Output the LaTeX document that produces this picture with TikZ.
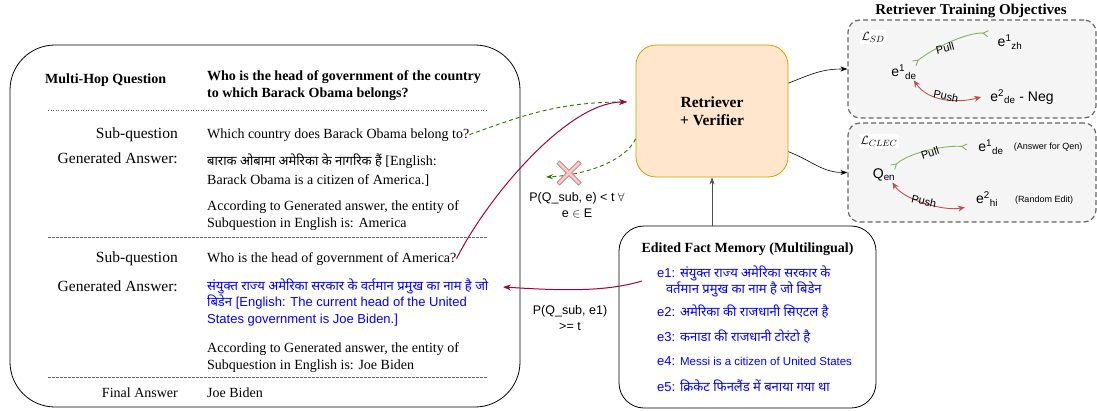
\documentclass[tikz,border=0pt]{standalone}
\usepackage{fontspec}
\setmainfont{Liberation Serif}
\setsansfont{Liberation Sans}
\newfontfamily\hindi[Script=Devanagari]{Noto Sans}
\usetikzlibrary{arrows.meta}

\definecolor{retfill}{HTML}{FFE6CC}
\definecolor{retdraw}{HTML}{D79B00}
\definecolor{objfill}{HTML}{F5F5F5}
\definecolor{objdraw}{HTML}{666666}
\definecolor{pullgreen}{HTML}{82B366}
\definecolor{pushred}{HTML}{B85450}
\definecolor{hopred}{HTML}{A50040}
\definecolor{missgreen}{HTML}{2D7600}
\definecolor{crossfill}{HTML}{F8CECC}
\definecolor{editblue}{HTML}{0000FF}

\tikzset{
  rowlabel/.style={anchor=base east, inner sep=0pt, font=\fontsize{15.5}{18}\selectfont},
  rowtext/.style={anchor=base west, inner sep=0pt, align=left, font=\fontsize{14}{17}\selectfont},
  edittext/.style={text=editblue, font=\sffamily\fontsize{13}{16.5}\selectfont},
  sepline/.style={black!60, line width=0.6pt, dash pattern=on 2.5pt off 1.5pt},
  retbox/.style={draw=retdraw, fill=retfill, line width=0.8pt, rounded corners=20pt,
    minimum width=152pt, minimum height=132pt, align=center,
    font=\bfseries\fontsize{15.5}{18}\selectfont},
  membox/.style={draw, line width=0.8pt, rounded corners=25pt,
    minimum width=257pt, minimum height=182pt},
  memline/.style={anchor=west, inner sep=0pt, text=editblue, font=\sffamily\fontsize{13}{15}\selectfont},
  objbox/.style={draw=objdraw, fill=objfill, line width=1.2pt, dash pattern=on 5pt off 3pt,
    rounded corners=12pt, minimum width=248pt},
  entity/.style={inner sep=1pt, font=\sffamily\fontsize{14}{16}\selectfont},
  note/.style={inner sep=0pt, font=\sffamily\fontsize{9}{11}\selectfont},
  forcelabel/.style={inner sep=0pt, font=\sffamily\fontsize{11}{13}\selectfont},
  lossname/.style={fill=white, inner sep=1.5pt, font=\fontsize{13}{15}\selectfont},
  probtext/.style={align=center, inner sep=0pt, font=\sffamily\fontsize{12.5}{16.5}\selectfont},
  pullarrow/.style={pullgreen, line width=0.9pt,
    {Straight Barb[reversed, length=5pt, width=6pt]}-{Straight Barb[reversed, length=5pt, width=6pt]}},
  pusharrow/.style={pushred, line width=0.9pt,
    {Stealth[length=7pt, width=6pt]}-{Stealth[length=7pt, width=6pt]}},
  missarrow/.style={missgreen, line width=0.9pt, dash pattern=on 4pt off 3pt,
    -{Stealth[length=7pt, width=5pt]}},
  hoparrow/.style={hopred, line width=1pt, -{Stealth[length=8pt, width=6pt]}},
}

\begin{document}
\begin{tikzpicture}[x=1pt, y=-1pt]
\useasboundingbox (0,0) rectangle (1097,412);

% question decomposition
\draw[line width=0.8pt, rounded corners=45pt] (10,45) rectangle (520,407);
\node[anchor=base west, inner sep=0pt, font=\bfseries\fontsize{14}{17}\selectfont] (mhqlabel) at (45,83) {Multi-Hop Question};
\node[rowtext, font=\bfseries\fontsize{14}{17}\selectfont] (mhq) at (207,97) {Who is the head of government of the country\\to which Barack Obama belongs?};
\draw[sepline, dash pattern=on 1pt off 1.5pt] (48,110) -- (487,110);

\node[rowlabel] (sqlabel1) at (178,138) {Sub-question};
\node[rowtext] (sq1) at (207,138) {Which country does Barack Obama belong to?};
\node[rowlabel] (galabel1) at (178,163) {Generated Answer:};
\node[rowtext] (ga1) at (207,184) {{\fontsize{13}{17}\hindi बाराक ओबामा अमेरिका के नागरिक हैं} [English:\\[2pt]Barack Obama is a citizen of America.]};
\node[rowtext] (ent1) at (207,227) {According to Generated answer, the entity of\\Subquestion in English is: America};
\draw[sepline] (48,237) -- (487,237);

\node[rowlabel] (sqlabel2) at (178,262) {Sub-question};
\node[rowtext] (sq2) at (207,262) {Who is the head of government of America?};
\node[rowlabel] (galabel2) at (178,291) {Generated Answer:};
\node[rowtext, edittext] (ga2) at (207,323) {{\hindi संयुक्त राज्य अमेरिका सरकार के वर्तमान प्रमुख का नाम है जो}\\{\hindi बिडेन} [English: The current head of the United\\States government is Joe Biden.]};
\node[rowtext] (ent2) at (207,369) {According to Generated answer, the entity of\\Subquestion in English is: Joe Biden};
\draw[sepline] (48,377) -- (487,377);

\node[rowlabel, font=\fontsize{14}{17}\selectfont] (falabel) at (178,397) {Final Answer};
\node[rowtext] (fa) at (207,397) {Joe Biden};

% retriever and memory
\node[retbox] (ret) at (712,111) {Retriever\\+ Verifier};
\node[membox] (mem) at (747.5,317) {};
\node[anchor=base, inner sep=0pt, font=\bfseries\fontsize{14}{17}\selectfont] (memtitle) at (747.5,252) {Edited Fact Memory (Multilingual)};
\node[memline, align=center] (e1) at (657,281) {e1: {\hindi संयुक्त राज्य अमेरिका सरकार के}\\{\hindi वर्तमान प्रमुख का नाम है जो बिडेन}};
\node[memline] (e2) at (657,312) {e2: {\hindi अमेरिका की राजधानी सिएटल है}};
\node[memline] (e3) at (657,337) {e3: {\hindi कनाडा की राजधानी टोरंटो है}};
\node[memline] (e4) at (657,361) {e4: {\fontsize{11.5}{14}\selectfont Messi is a citizen of United States}};
\node[memline] (e5) at (657,386) {e5: {\hindi क्रिकेट फिनलैंड में बनाया गया था}};

\draw[-{Stealth[length=7pt, width=5pt]}, line width=0.6pt, black!70] (ret.south |- mem.north) -- (ret.south);

% retrieval attempts
\coordinate (retin) at (627,102);
\coordinate (missend) at (546,177);
\coordinate (hitend) at (503,287);
\coordinate (miss) at (569,173);
\draw[missarrow] (sq1.east) .. controls +(50,-18) and +(-70,0) .. (retin);
\draw[hoparrow] (sq2.east) .. controls +(30,-60) and +(-60,0) .. (retin);
\draw[missarrow] (ret.-160) .. controls +(-10,22) and +(40,-2) .. (missend);
\draw[pushred!80, line width=4.4pt] ([shift={(-11,-11)}]miss) -- ([shift={(11,11)}]miss);
\draw[pushred!80, line width=4.4pt] ([shift={(-11,11)}]miss) -- ([shift={(11,-11)}]miss);
\draw[crossfill, line width=2.6pt] ([shift={(-10.4,-10.4)}]miss) -- ([shift={(10.4,10.4)}]miss);
\draw[crossfill, line width=2.6pt] ([shift={(-10.4,10.4)}]miss) -- ([shift={(10.4,-10.4)}]miss);
\node[probtext] (misslabel) at (577,205) {P(Q\_sub, e) < t $\forall$\\e $\in$ E};
\draw[hoparrow] ([xshift=-15pt]e1.west) .. controls +(-40,12) and +(50,3) .. (hitend);
\node[probtext] (hitlabel) at (570,318) {P(Q\_sub, e1)\\>= t};

% training objectives
\node[inner sep=0pt, font=\bfseries\fontsize{15}{18}\selectfont] (objtitle) at (971,11) {Retriever Training Objectives};
\node[objbox, minimum height=98pt] (sdbox) at (972,69) {};
\node[objbox, minimum height=99pt] (clecbox) at (972,172.5) {};
\draw[-{Stealth[length=7pt, width=5pt]}, line width=0.6pt] (ret.20) .. controls +(25,-10) and +(-25,0) .. (sdbox.west);
\draw[-{Stealth[length=7pt, width=5pt]}, line width=0.6pt] (ret.-28) .. controls +(25,10) and +(-25,0) .. (clecbox.west);

\node[lossname] (lsd) at (873,37) {$\mathcal{L}_{SD}$};
\node[entity] (sdanchor) at (904,72) {e\textsuperscript{1}\textsubscript{de}};
\node[entity] (sdpos) at (1010,42) {e\textsuperscript{1}\textsubscript{zh}};
\node[entity] (sdneg) at (1022,97) {e\textsuperscript{2}\textsubscript{de} - Neg};
\draw[pullarrow] ([xshift=-4pt]sdanchor.north east) .. controls +(20,-16) and +(-20,-2) .. ([xshift=-8pt]sdpos.north west);
\draw[pusharrow] ([xshift=-4pt]sdanchor.south east) .. controls +(15,22) and +(-22,6) .. ([xshift=-8pt]sdneg.west);
\node[forcelabel, rotate=15] (sdpull) at (945,48) {Pull};
\node[forcelabel, rotate=-12] (sdpush) at (946,96) {Push};

\node[lossname] (lclec) at (879,141) {$\mathcal{L}_{CLEC}$};
\node[entity] (clecq) at (884,175) {Q\textsubscript{en}};
\node[entity] (clecpos) at (991,147) {e\textsuperscript{1}\textsubscript{de}};
\node[entity] (clecneg) at (987,199) {e\textsuperscript{2}\textsubscript{hi}};
\node[note] (clecposnote) at (1048,147) {(Answer for Qen)};
\node[note] (clecnegnote) at (1044,200) {(Random Edit)};
\draw[pullarrow] ([xshift=-4pt]clecq.north east) .. controls +(18,-16) and +(-20,-2) .. ([xshift=-10pt]clecpos.west);
\draw[pusharrow] ([xshift=-4pt]clecq.south east) .. controls +(12,18) and +(-20,4) .. ([xshift=-10pt]clecneg.south west);
\node[forcelabel, rotate=18] (clecpull) at (930,153) {Pull};
\node[forcelabel, rotate=-12] (clecpush) at (924,201) {Push};
\end{tikzpicture}
\end{document}
